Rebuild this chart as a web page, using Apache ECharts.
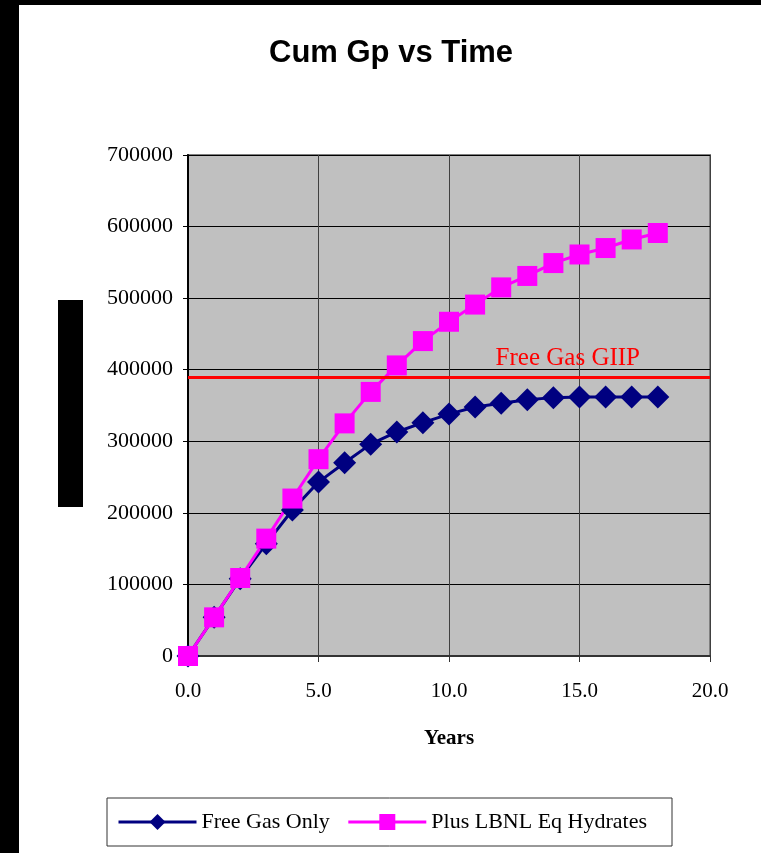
<!DOCTYPE html>
<html>
<head>
<meta charset="utf-8">
<script src="https://cdn.jsdelivr.net/npm/echarts@6.0.0/dist/echarts.min.js"></script>
<style>
  body { margin: 0; background: #fff; }
  #chart { width: 761px; height: 853px; }
</style>
</head>
<body>
<div id="chart"></div>
<script>
// data
var years = [0, 1, 2, 3, 4, 5, 6, 7, 8, 9, 10, 11, 12, 13, 14, 15, 16, 17, 18];
var freeGasOnly = [0, 54000, 108000, 157000, 204000, 243000, 270000, 296000, 313000, 326000,
                   338000, 348000, 353000, 358000, 361000, 362000, 362000, 362000, 362000];
var plusHydrates = [0, 54000, 109000, 164000, 220000, 275000, 325000, 369000, 406000, 440000,
                    467000, 491000, 515000, 531000, 549000, 561000, 570000, 582000, 591000];
var freeGasGiip = 390000;
var xTicks = [0, 5, 10, 15, 20];
var yTicks = [0, 100000, 200000, 300000, 400000, 500000, 600000, 700000];

function pairs(xs, ys) {
    return xs.map(function (x, i) { return [x, ys[i]]; });
}

var serif = 'Liberation Serif';

var myChart = echarts.init(document.getElementById('chart'));
var option = {
    backgroundColor: '#fff',
    animation: false,
    title: {
        text: 'Cum Gp vs Time',
        left: 264,
        top: 33,
        textStyle: {
            fontFamily: 'Liberation Sans',
            fontWeight: 'bold',
            fontSize: 31,
            color: '#000'
        }
    },
    // black page edges and the covered axis title
    graphic: [
        {type: 'rect', shape: {x: 0, y: 0, width: 19, height: 853}, style: {fill: '#000'}},
        {type: 'rect', shape: {x: 0, y: 0, width: 761, height: 5}, style: {fill: '#000'}},
        {type: 'rect', shape: {x: 58, y: 300, width: 25, height: 207}, style: {fill: '#000'}}
    ],
    grid: {
        left: 188,
        right: 51,
        top: 155,
        bottom: 197,
        show: true,
        backgroundColor: '#c0c0c0',
        borderColor: '#808080',
        borderWidth: 2
    },
    legend: {
        left: 107,
        top: 798,
        padding: [13, 25, 13, 10],
        itemGap: 17,
        itemWidth: 78,
        itemHeight: 20,
        borderColor: '#333',
        borderWidth: 1,
        lineStyle: {width: 3},
        textStyle: {
            fontFamily: serif,
            fontSize: 22,
            color: '#000'
        },
        data: ['Free Gas Only', 'Plus LBNL Eq Hydrates']
    },
    xAxis: {
        type: 'value',
        min: xTicks[0],
        max: xTicks[xTicks.length - 1],
        interval: 5,
        name: 'Years',
        nameLocation: 'middle',
        nameGap: 72,
        nameTextStyle: {
            fontFamily: serif,
            fontWeight: 'bold',
            fontSize: 21,
            color: '#000'
        },
        axisLine: {lineStyle: {color: '#333', width: 2}},
        axisTick: {show: true, length: 6, lineStyle: {color: '#333'}},
        axisLabel: {
            margin: 25,
            fontFamily: serif,
            fontSize: 21,
            color: '#000',
            formatter: function (v) { return v.toFixed(1); }
        },
        splitLine: {show: true, lineStyle: {color: '#404040', width: 1}}
    },
    yAxis: {
        type: 'value',
        min: yTicks[0],
        max: yTicks[yTicks.length - 1],
        interval: 100000,
        axisLine: {show: true, lineStyle: {color: '#000', width: 2}},
        axisTick: {show: true, length: 5, lineStyle: {color: '#000'}},
        axisLabel: {
            margin: 15,
            fontFamily: serif,
            fontSize: 22,
            color: '#000',
            formatter: function (v) { return String(v); }
        },
        splitLine: {show: true, lineStyle: {color: '#000', width: 1}}
    },
    series: [{
        name: 'Free Gas Only',
        type: 'line',
        data: pairs(years, freeGasOnly),
        symbol: 'diamond',
        symbolSize: 23,
        color: '#000080',
        lineStyle: {color: '#000080', width: 3},
        itemStyle: {color: '#000080'},
        markLine: {
            silent: true,
            symbol: ['none', 'none'],
            lineStyle: {color: '#ff0000', width: 3, type: 'solid'},
            label: {
                show: true,
                position: 'insideEndTop',
                distance: [70, 6],
                formatter: 'Free Gas GIIP',
                fontFamily: serif,
                fontSize: 25,
                color: '#ff0000'
            },
            data: [{yAxis: freeGasGiip}]
        }
    },
    {
        name: 'Plus LBNL Eq Hydrates',
        type: 'line',
        data: pairs(years, plusHydrates),
        symbol: 'rect',
        symbolSize: 20,
        color: '#ff00ff',
        lineStyle: {color: '#ff00ff', width: 3},
        itemStyle: {color: '#ff00ff'}
    }]
};

myChart.setOption(option);
</script>
</body>
</html>
